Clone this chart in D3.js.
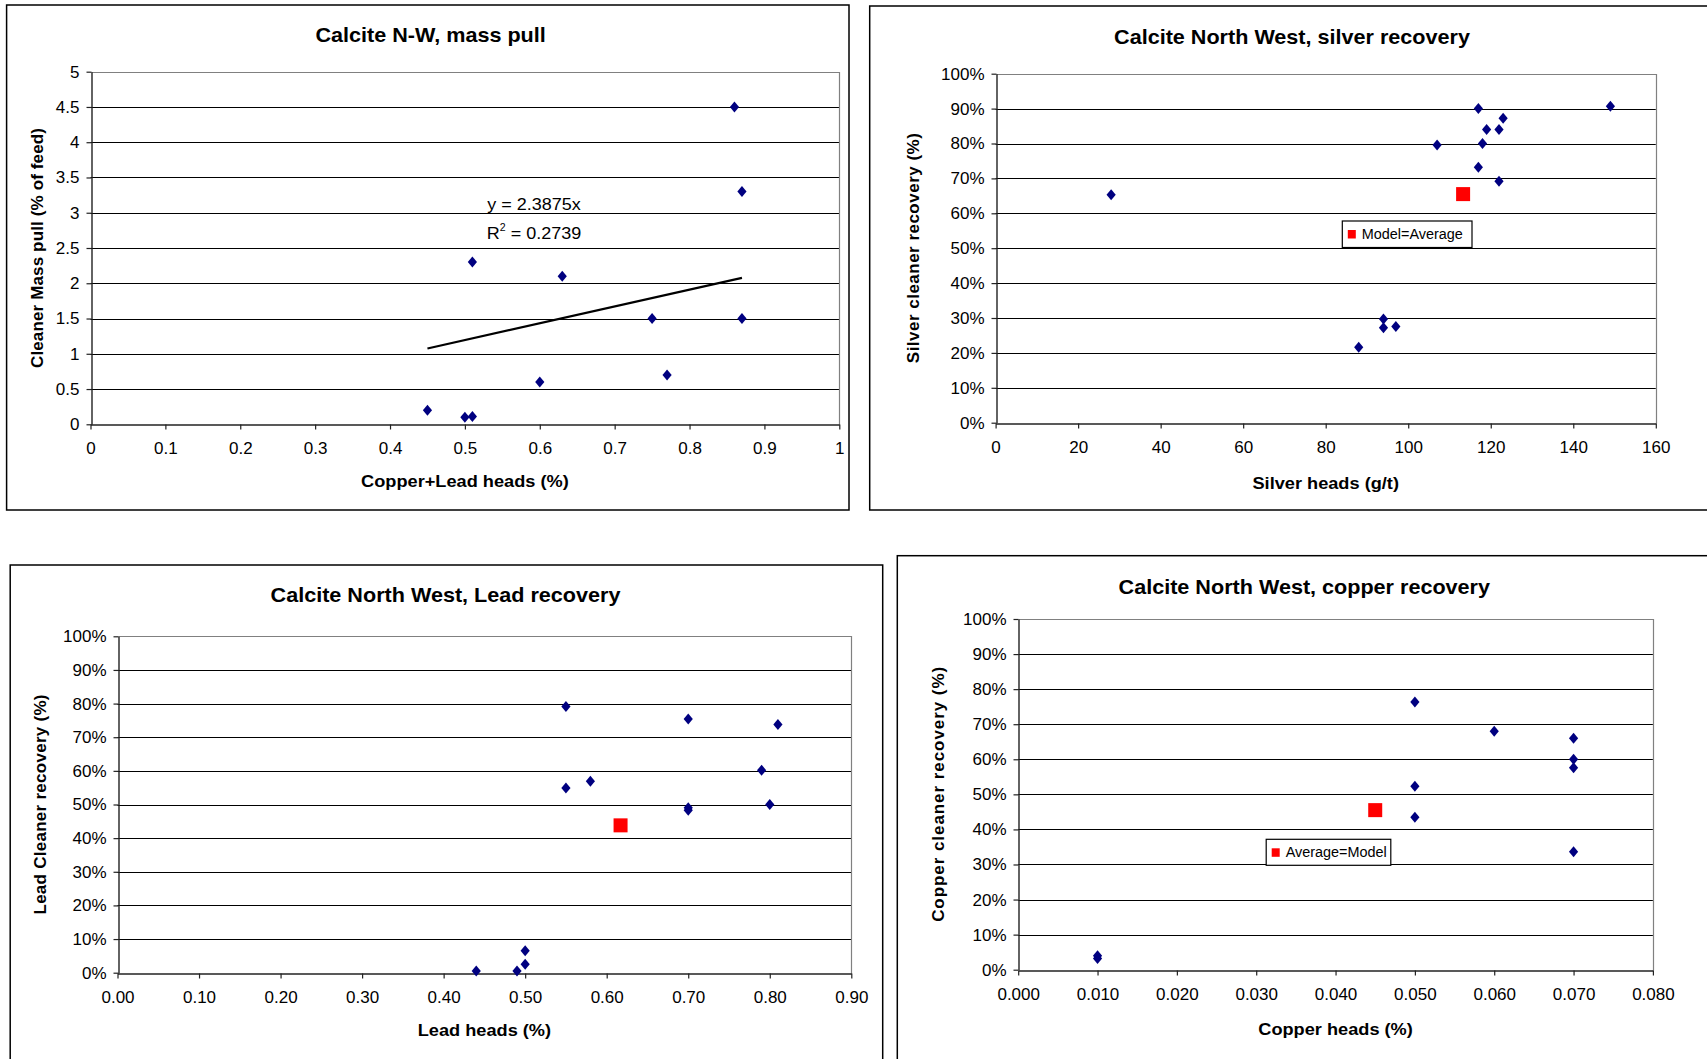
<!DOCTYPE html>
<html>
<head>
<meta charset="utf-8">
<script src="https://cdn.jsdelivr.net/npm/d3@7"></script>
<style>
  html, body { margin: 0; padding: 0; background: #fff; }
  svg { display: block; }
  text { font-family: Arial, "Liberation Sans", sans-serif; fill: #000; }
</style>
</head>
<body>
<svg id="chart" width="1707" height="1059"></svg>
<script>
// ---------------- DATA ----------------
// Panel 1: Calcite N-W, mass pull
const massHeads = [0.45, 0.50, 0.51, 0.51, 0.60, 0.63, 0.75, 0.77, 0.86, 0.87, 0.87];
const massPull  = [0.20, 0.10, 0.11, 2.30, 0.60, 2.10, 1.50, 0.70, 4.50, 3.30, 1.50];
const massTrendSlope = 2.3875;
const massTrendRange = [0.45, 0.87];
const massTrendLabel = "y = 2.3875x";
const massR2Label = "0.2739";
const massXTicks = [0, 0.1, 0.2, 0.3, 0.4, 0.5, 0.6, 0.7, 0.8, 0.9, 1];
const massYTicks = [0, 0.5, 1, 1.5, 2, 2.5, 3, 3.5, 4, 4.5, 5];

// Panel 2: silver recovery
const silverHeads = [28, 88, 94, 94, 97, 107, 117, 117, 118, 119, 122, 122, 123, 149];
const silverRec   = [65.3, 21.6, 29.7, 27.2, 27.6, 79.6, 90.0, 73.2, 80.0, 84.0, 84.0, 69.2, 87.2, 90.7];
const silverModelHeads = [113.3];
const silverModelRec   = [65.5];
const silverXTicks = [0, 20, 40, 60, 80, 100, 120, 140, 160];

// Panel 3: lead recovery
const leadHeads = [0.44, 0.49, 0.50, 0.50, 0.55, 0.55, 0.58, 0.70, 0.70, 0.70, 0.79, 0.80, 0.81];
const leadRec   = [0.5, 0.5, 6.5, 2.5, 79.1, 54.9, 56.9, 75.4, 48.3, 49.0, 60.2, 50.0, 73.8];
const leadModelHeads = [0.617];
const leadModelRec   = [43.8];
const leadXTicks = [0, 0.1, 0.2, 0.3, 0.4, 0.5, 0.6, 0.7, 0.8, 0.9];

// Panel 4: copper recovery
const copperHeads = [0.01, 0.01, 0.05, 0.05, 0.05, 0.06, 0.07, 0.07, 0.07, 0.07];
const copperRec   = [3.2, 4.0, 76.3, 52.3, 43.5, 68.0, 66.0, 60.0, 57.6, 33.6];
const copperModelHeads = [0.045];
const copperModelRec   = [45.5];
const copperXTicks = [0, 0.01, 0.02, 0.03, 0.04, 0.05, 0.06, 0.07, 0.08];

const pctTicks = [0, 10, 20, 30, 40, 50, 60, 70, 80, 90, 100];

// ---------------- STYLE / LAYOUT ----------------
const NAVY = "#000080", RED = "#ff0000";
const SX = 1.04;
const svg = d3.select("#chart");

function hText(g, x, y, str, size, weight, anchor, sx) {
  return g.append("text")
    .attr("transform", `translate(${x},${y}) scale(${sx || SX},1)`)
    .attr("text-anchor", anchor || "middle")
    .style("font-size", size + "px")
    .style("font-weight", weight || "normal")
    .text(str);
}

function panel(cfg) {
  const g = svg.append("g");
  // outer frame
  g.append("rect")
    .attr("x", cfg.frame[0]).attr("y", cfg.frame[1])
    .attr("width", cfg.frame[2] - cfg.frame[0]).attr("height", cfg.frame[3] - cfg.frame[1])
    .attr("fill", "#fff").attr("stroke", "#000").attr("stroke-width", 1.5);

  const [L, T, R, B] = cfg.plot;
  const x = d3.scaleLinear().domain(cfg.xDomain).range([L, R]);
  const y = d3.scaleLinear().domain(cfg.yDomain).range([B, T]);
  const snap = v => Math.round(v) + 0.5;

  // gridlines (inner ticks)
  g.append("g").selectAll("line")
    .data(cfg.yTicks.slice(1, -1))
    .join("line")
    .attr("x1", L).attr("x2", R)
    .attr("y1", d => snap(y(d))).attr("y2", d => snap(y(d)))
    .attr("stroke", "#000").attr("stroke-width", 1.1);

  // plot area border top/right (gray)
  g.append("path")
    .attr("d", `M${snap(L)},${snap(T)}H${snap(R)}V${snap(B)}`)
    .attr("fill", "none").attr("stroke", "#808080").attr("stroke-width", 1.2);

  // axes
  const xAxis = d3.axisBottom(x).tickValues(cfg.xTicks).tickFormat(cfg.xFormat)
    .tickSizeInner(5).tickSizeOuter(0).tickPadding(12);
  const yAxis = d3.axisLeft(y).tickValues(cfg.yTicks).tickFormat(cfg.yFormat)
    .tickSizeInner(5).tickSizeOuter(0).tickPadding(7);
  const gx = g.append("g").attr("transform", `translate(0,${snap(B)})`).call(xAxis);
  const gy = g.append("g").attr("transform", `translate(${snap(L)},0)`).call(yAxis);
  [gx, gy].forEach(a => {
    a.select(".domain").attr("stroke", "#222").attr("stroke-width", 1.4);
    a.selectAll(".tick line").attr("stroke", "#222").attr("stroke-width", 1.2);
    a.selectAll(".tick text").style("font-size", "17px")
      .style("font-family", "Arial, 'Liberation Sans', sans-serif").attr("fill", "#000");
  });

  // trend line
  if (cfg.trend) {
    g.append("line")
      .attr("x1", x(cfg.trend.range[0])).attr("y1", y(cfg.trend.slope * cfg.trend.range[0]))
      .attr("x2", x(cfg.trend.range[1])).attr("y2", y(cfg.trend.slope * cfg.trend.range[1]))
      .attr("stroke", "#000").attr("stroke-width", 2.2);
  }

  // diamonds
  const pts = cfg.xs.map((v, i) => [v, cfg.ys[i]]);
  g.append("g").selectAll("path")
    .data(pts)
    .join("path")
    .attr("d", d => {
      const cx = x(d[0]), cy = y(d[1]);
      return `M${cx},${cy - 5.5}L${cx + 4.6},${cy}L${cx},${cy + 5.5}L${cx - 4.6},${cy}Z`;
    })
    .attr("fill", NAVY);

  // model / average square
  if (cfg.modelX) {
    const mp = cfg.modelX.map((v, i) => [v, cfg.modelY[i]]);
    g.append("g").selectAll("rect")
      .data(mp)
      .join("rect")
      .attr("x", d => x(d[0]) - 7).attr("y", d => y(d[1]) - 7)
      .attr("width", 14).attr("height", 14)
      .attr("fill", RED);
  }

  // legend
  if (cfg.legend) {
    const [lx, ly, lw, lh] = cfg.legend.box;
    g.append("rect").attr("x", lx).attr("y", ly).attr("width", lw).attr("height", lh)
      .attr("fill", "#fff").attr("stroke", "#000").attr("stroke-width", 1.2);
    g.append("rect").attr("x", lx + 5.5).attr("y", ly + 9).attr("width", 8).attr("height", 8.5)
      .attr("fill", RED);
    hText(g, lx + 19.5, ly + 17.5, cfg.legend.text, 14, "normal", "start", 1.03);
  }

  // titles
  hText(g, cfg.titlePos[0], cfg.titlePos[1], cfg.title, 20, "bold", "middle", 1.08);
  hText(g, (L + R) / 2, cfg.xTitleY, cfg.xTitle, 17, "bold", "middle", 1.07);
  g.append("text")
    .attr("transform", `translate(${cfg.yTitleX},${(T + B) / 2}) rotate(-90)`)
    .attr("text-anchor", "middle")
    .attr("textLength", cfg.yTitleLen).attr("lengthAdjust", "spacing")
    .style("font-size", "17px").style("font-weight", "bold")
    .text(cfg.yTitle);

  return { g, x, y };
}

// Panel 1
const p1 = panel({
  frame: [6.6, 5, 849, 510],
  plot: [90.5, 71.7, 839.3, 424.3],
  xDomain: [0, 1], yDomain: [0, 5],
  xTicks: massXTicks, yTicks: massYTicks,
  xFormat: d3.format("~g"), yFormat: d3.format("~g"),
  xs: massHeads, ys: massPull,
  trend: { slope: massTrendSlope, range: massTrendRange },
  title: "Calcite N-W, mass pull", titlePos: [430.6, 42],
  xTitle: "Copper+Lead heads (%)", xTitleY: 486.7,
  yTitle: "Cleaner Mass pull (% of feed)", yTitleX: 43.3, yTitleLen: 240
});
// trend equation labels
hText(p1.g, 534, 210, massTrendLabel, 17, "normal", "middle", 1.06);
{
  const t = p1.g.append("text")
    .attr("transform", `translate(534,238.5) scale(1.06,1)`)
    .attr("text-anchor", "middle").style("font-size", "17px");
  t.append("tspan").text("R");
  t.append("tspan").attr("dy", -8).style("font-size", "10px").text("2");
  t.append("tspan").attr("dy", 8).text(" = " + massR2Label);
}

// Panel 2
panel({
  frame: [869.7, 6, 1720, 510],
  plot: [995.6, 73.7, 1655.8, 422.7],
  xDomain: [0, 160], yDomain: [0, 100],
  xTicks: silverXTicks, yTicks: pctTicks,
  xFormat: d3.format("d"), yFormat: d => d + "%",
  xs: silverHeads, ys: silverRec,
  modelX: silverModelHeads, modelY: silverModelRec,
  legend: { box: [1342.3, 221, 129.7, 26.5], text: "Model=Average" },
  title: "Calcite North West, silver recovery", titlePos: [1292, 43.5],
  xTitle: "Silver heads (g/t)", xTitleY: 488.5,
  yTitle: "Silver cleaner recovery (%)", yTitleX: 918.5, yTitleLen: 230
});

// Panel 3
panel({
  frame: [10.2, 565, 882.7, 1075],
  plot: [117.5, 636.3, 851.3, 972.7],
  xDomain: [0, 0.9], yDomain: [0, 100],
  xTicks: leadXTicks, yTicks: pctTicks,
  xFormat: d3.format(".2f"), yFormat: d => d + "%",
  xs: leadHeads, ys: leadRec,
  modelX: leadModelHeads, modelY: leadModelRec,
  title: "Calcite North West, Lead recovery", titlePos: [445.5, 602],
  xTitle: "Lead heads (%)", xTitleY: 1035.5,
  yTitle: "Lead Cleaner recovery (%)", yTitleX: 46, yTitleLen: 220
});

// Panel 4
panel({
  frame: [897.3, 555.7, 1720, 1075],
  plot: [1018.2, 619, 1652.9, 969.7],
  xDomain: [0, 0.08], yDomain: [0, 100],
  xTicks: copperXTicks, yTicks: pctTicks,
  xFormat: d3.format(".3f"), yFormat: d => d + "%",
  xs: copperHeads, ys: copperRec,
  modelX: copperModelHeads, modelY: copperModelRec,
  legend: { box: [1266.2, 839.3, 124.6, 26], text: "Average=Model" },
  title: "Calcite North West, copper recovery", titlePos: [1304.3, 593.5],
  xTitle: "Copper heads (%)", xTitleY: 1035,
  yTitle: "Copper cleaner recovery (%)", yTitleX: 944, yTitleLen: 255
});
</script>
</body>
</html>
